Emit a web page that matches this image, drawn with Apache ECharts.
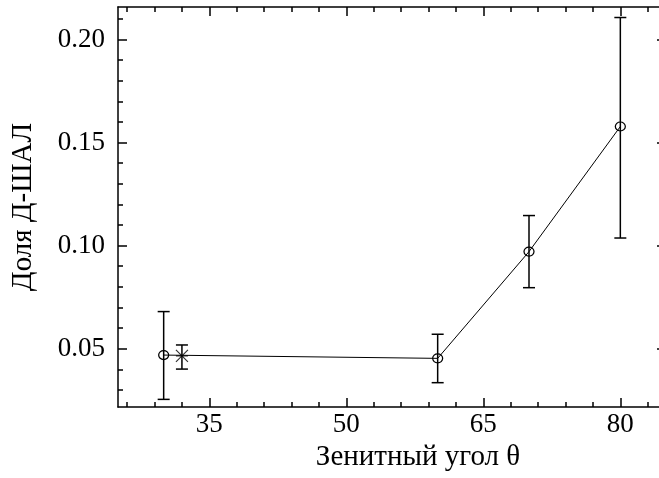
<!DOCTYPE html>
<html>
<head>
<meta charset="utf-8">
<script src="https://cdn.jsdelivr.net/npm/echarts@6/dist/echarts.min.js"></script>
<style>
  html, body { margin: 0; padding: 0; background: #fff; }
  #main { width: 659px; height: 478px; }
</style>
</head>
<body>
<div id="main"></div>
<script>
// circles, joined by the line
var angles = [30, 60, 70, 80];
var fractions = [0.0469, 0.0453, 0.0971, 0.1578];
var errLow = [0.0254, 0.0335, 0.0796, 0.1037];
var errHigh = [0.0680, 0.0570, 0.1146, 0.2107];

// single star point
var starAngle = [32];
var starFraction = [0.0465];
var starLow = [0.0401];
var starHigh = [0.0518];

var xTicks = [35, 50, 65, 80];
var xMinor = [26, 29, 32, 38, 41, 44, 47, 53, 56, 59, 62, 68, 71, 74, 77, 83];
var yTicks = [0.05, 0.10, 0.15, 0.20];
var yMinor = [0.03, 0.04, 0.06, 0.07, 0.08, 0.09, 0.11, 0.12, 0.13, 0.14, 0.16, 0.17, 0.18, 0.19, 0.21];

var font = 'Liberation Serif';
var black = '#000';

var chart = echarts.init(document.getElementById('main'));

function lineData() {
  var out = [];
  for (var i = 0; i < angles.length; i++) out.push([angles[i], fractions[i]]);
  return out;
}

function errData() {
  var out = [];
  for (var i = 0; i < angles.length; i++) out.push([angles[i], errLow[i], errHigh[i]]);
  for (var j = 0; j < starAngle.length; j++) out.push([starAngle[j], starLow[j], starHigh[j]]);
  return out;
}

function xAx(pos, ticks, len, showLine, labels) {
  return {
    type: 'value', position: pos, min: 25, max: 85,
    axisLine: { show: showLine, lineStyle: { color: black, width: 1.5 } },
    axisTick: { show: true, inside: true, length: len, customValues: ticks, lineStyle: { color: black, width: 1.5 } },
    axisLabel: labels ? { show: true, customValues: ticks, margin: 4, color: black, fontFamily: font, fontSize: 27 } : { show: false },
    splitLine: { show: false }
  };
}

function yAx(pos, ticks, len, showLine, labels) {
  return {
    type: 'value', position: pos, min: 0.0217, max: 0.2158,
    axisLine: { show: showLine, lineStyle: { color: black, width: 1.5 } },
    axisTick: { show: true, inside: true, length: len, customValues: ticks, lineStyle: { color: black, width: 1.5 } },
    axisLabel: labels ? {
      show: true, customValues: ticks, margin: 13, color: black, fontFamily: font, fontSize: 27,
      formatter: function (v) { return v.toFixed(2); }
    } : { show: false },
    splitLine: { show: false }
  };
}

var xMain = xAx('bottom', xTicks, 9, true, true);
xMain.name = 'Зенитный угол θ';
xMain.nameLocation = 'middle';
xMain.nameGap = 36;
xMain.nameTextStyle = { color: black, fontFamily: font, fontSize: 29, padding: [0, 0, 0, 52] };

var yMain = yAx('left', yTicks, 9, true, true);
yMain.name = 'Доля Д-ШАЛ';
yMain.nameLocation = 'middle';
yMain.nameGap = 80;
yMain.nameTextStyle = { color: black, fontFamily: font, fontSize: 29 };

var option = {
  animation: false,
  backgroundColor: '#fff',
  grid: { left: 118, top: 7, width: 548, height: 400, outerBoundsMode: 'none', containLabel: false },
  xAxis: [
    xMain,
    xAx('bottom', xMinor, 5, false, false),
    xAx('top', xTicks, 9, true, false),
    xAx('top', xMinor, 5, false, false)
  ],
  yAxis: [
    yMain,
    yAx('left', yMinor, 5, false, false),
    yAx('right', yTicks, 9, true, false),
    yAx('right', yMinor, 5, false, false)
  ],
  series: [
    {
      type: 'custom',
      xAxisIndex: 0, yAxisIndex: 0,
      data: errData(),
      renderItem: function (params, api) {
        var top = api.coord([api.value(0), api.value(2)]);
        var bot = api.coord([api.value(0), api.value(1)]);
        var w = 6;
        var st = { stroke: black, lineWidth: 1.5 };
        return {
          type: 'group',
          children: [
            { type: 'line', shape: { x1: top[0], y1: top[1], x2: bot[0], y2: bot[1] }, style: st },
            { type: 'line', shape: { x1: top[0] - w, y1: top[1], x2: top[0] + w, y2: top[1] }, style: st },
            { type: 'line', shape: { x1: bot[0] - w, y1: bot[1], x2: bot[0] + w, y2: bot[1] }, style: st }
          ]
        };
      }
    },
    {
      type: 'line',
      xAxisIndex: 0, yAxisIndex: 0,
      data: lineData(),
      symbol: 'circle',
      symbolSize: [10, 9],
      lineStyle: { color: black, width: 1 },
      itemStyle: { color: 'rgba(0,0,0,0)', borderColor: black, borderWidth: 1.2 }
    },
    {
      type: 'scatter',
      xAxisIndex: 0, yAxisIndex: 0,
      data: [[starAngle[0], starFraction[0]]],
      symbol: 'path://M0,0L10,10M10,0L0,10M0,5L10,5',
      symbolSize: 12,
      itemStyle: { color: 'none', borderColor: black, borderWidth: 1.2 }
    }
  ]
};

chart.setOption(option);
</script>
</body>
</html>
